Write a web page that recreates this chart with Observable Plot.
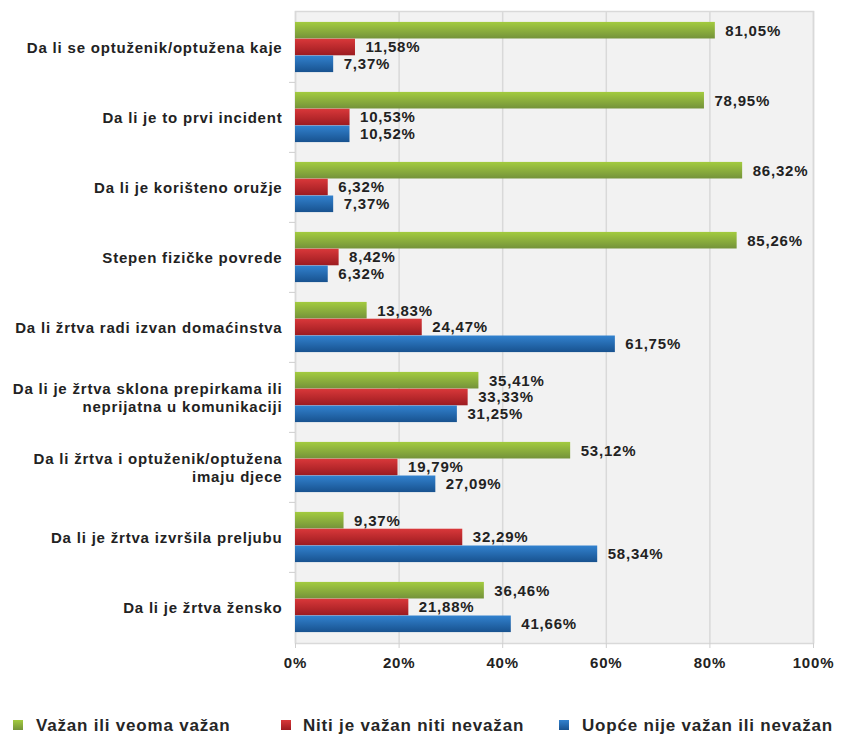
<!DOCTYPE html>
<html><head><meta charset="utf-8">
<script src="https://cdn.jsdelivr.net/npm/d3@7"></script>
<script src="https://cdn.jsdelivr.net/npm/@observablehq/plot@0.6"></script>
<style>
body{margin:0;background:#fff;font-family:"Liberation Sans",Arial,sans-serif;}
#wrap{position:relative;width:844px;}
.legend{position:relative;height:47px;width:844px;}
.sw{position:absolute;width:10px;height:10px;top:30px;}
.lt{position:absolute;top:26px;line-height:20px;font-size:17px;font-weight:bold;letter-spacing:0.8px;color:#262626;white-space:nowrap;}
</style></head><body><div id="wrap"></div>
<script>
const categories = [
  "Da li se optuženik/optužena kaje",
  "Da li je to prvi incident",
  "Da li je korišteno oružje",
  "Stepen fizičke povrede",
  "Da li žrtva radi izvan domaćinstva",
  "Da li je žrtva sklona prepirkama ili\nneprijatna u komunikaciji",
  "Da li žrtva i optuženik/optužena\nimaju djece",
  "Da li je žrtva izvršila preljubu",
  "Da li je žrtva žensko"
];
const seriesNames = ["Važan ili veoma važan", "Niti je važan niti nevažan", "Uopće nije važan ili nevažan"];
const vazan = [81.05, 78.95, 86.32, 85.26, 13.83, 35.41, 53.12, 9.37, 36.46];
const niti = [11.58, 10.53, 6.32, 8.42, 24.47, 33.33, 19.79, 32.29, 21.88];
const uopce = [7.37, 10.52, 7.37, 6.32, 61.75, 31.25, 27.09, 58.34, 41.66];
const xTicks = [0, 20, 40, 60, 80, 100];

const seriesValues = [vazan, niti, uopce];
const gradIds = ["gGreen", "gRed", "gBlue"];
const gradStops = [["#a3cb3f", "#74933a"], ["#d9383a", "#9c1b20"], ["#3282cf", "#18528f"]];

const W = 844, H = 690, mT = 11, mB = 47, mL = 295, mR = 31;
const step = (H - mT - mB) / categories.length;
const barH = 16.8;
const pad = (step - 3 * barH) / 2;

const table = seriesNames.map((s, j) => categories.map((c, i) => ({cat: c, series: s, value: seriesValues[j][i]})));
const fmt = v => v.toFixed(2).replace(".", ",") + "%";
const txt = {fontFamily: "Liberation Sans, Arial, sans-serif", fontWeight: "bold", fontSize: 15, fill: "#222"};

const marks = [
  Plot.frame({fill: "#f2f2f2", stroke: null}),
  Plot.gridX(xTicks, {stroke: "#d9d9d9", strokeOpacity: 1, strokeWidth: 1.5}),
  Plot.frame({stroke: "#d9d9d9", strokeWidth: 1.5}),
  Plot.axisX({ticks: xTicks, tickFormat: d => d + "%", tickSize: 5, tickPadding: 9, stroke: "#cfcfcf", label: null, ...txt}),
  Plot.axisY({ticks: categories.slice(1), tickFormat: () => "", tickSize: 6, dy: -step / 2, stroke: "#cfcfcf", label: null}),
  Plot.text(categories, {y: d => d, frameAnchor: "left", textAnchor: "end", dx: -13, lineHeight: 1.15, ...txt})
];
table.forEach((rows, j) => {
  marks.push(Plot.barX(rows, {
    y: "cat", x1: 0, x2: "value", fill: `url(#${gradIds[j]})`,
    insetTop: pad + j * barH, insetBottom: pad + (2 - j) * barH
  }));
  marks.push(Plot.text(rows, {
    y: "cat", x: "value", text: d => fmt(d.value), textAnchor: "start", dx: 10, dy: (j - 1) * barH, ...txt
  }));
});

const chart = Plot.plot({
  width: W, height: H, marginTop: mT, marginBottom: mB, marginLeft: mL, marginRight: mR,
  x: {domain: [0, 100], axis: null},
  y: {domain: categories, padding: 0, axis: null},
  style: {background: "transparent", fontFamily: "Liberation Sans, Arial, sans-serif", letterSpacing: "0.8px"},
  marks
});

const svg = d3.select(chart);
const defs = svg.insert("defs", ":first-child");
gradIds.forEach((id, j) => {
  const g = defs.append("linearGradient").attr("id", id).attr("x1", 0).attr("y1", 0).attr("x2", 0).attr("y2", 1);
  g.append("stop").attr("offset", "0%").attr("stop-color", gradStops[j][0]);
  g.append("stop").attr("offset", "100%").attr("stop-color", gradStops[j][1]);
});

const wrap = document.getElementById("wrap");
wrap.appendChild(chart);

const legendX = [[13, 36], [281, 303], [559, 582]];
const legend = document.createElement("div");
legend.className = "legend";
seriesNames.forEach((s, j) => {
  const sq = document.createElement("div");
  sq.className = "sw";
  sq.style.left = legendX[j][0] + "px";
  sq.style.background = `linear-gradient(${gradStops[j][0]}, ${gradStops[j][1]})`;
  legend.appendChild(sq);
  const t = document.createElement("div");
  t.className = "lt";
  t.style.left = legendX[j][1] + "px";
  t.textContent = s;
  legend.appendChild(t);
});
wrap.appendChild(legend);
</script></body></html>
